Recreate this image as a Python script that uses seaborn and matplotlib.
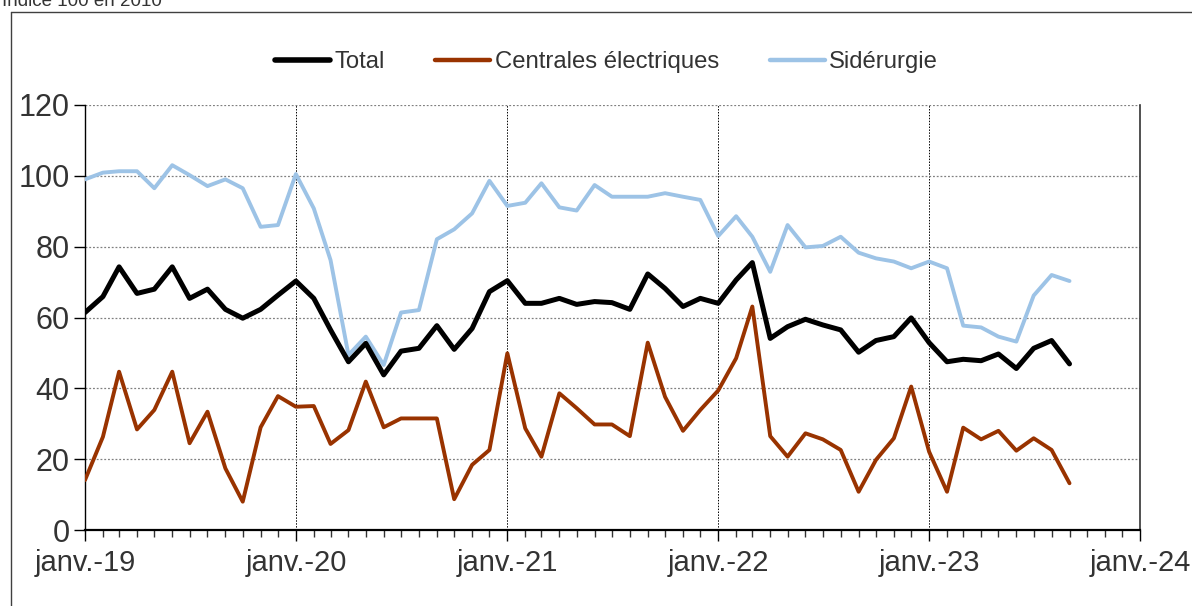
import matplotlib
matplotlib.use("Agg")
import matplotlib.pyplot as plt
import matplotlib.dates as mdates
from matplotlib.lines import Line2D
import numpy as np
import pandas as pd
import seaborn as sns

# Données mensuelles, janv. 2019 à sept. 2023 (indice 100 en 2010)
mois = pd.date_range("2019-01-01", "2023-09-01", freq="MS")

total = [61.4, 65.9, 74.3, 66.8, 68.0, 74.3, 65.4, 68.0, 62.3, 59.8, 62.3, 66.3,
         70.3, 65.4, 56.5, 47.5, 52.7, 43.8, 50.5, 51.3, 57.7, 51.0, 56.9, 67.3,
         70.4, 64.0, 64.0, 65.4, 63.7, 64.5, 64.2, 62.3, 72.3, 68.2, 63.1, 65.4,
         64.0, 70.6, 75.5, 54.1, 57.4, 59.5, 57.9, 56.5, 50.2, 53.5, 54.6, 59.9,
         52.9, 47.5, 48.2, 47.8, 49.7, 45.6, 51.3, 53.5, 46.9]

centrales = [14.1, 26.3, 44.7, 28.4, 33.9, 44.7, 24.5, 33.4, 17.4, 8.0, 29.0, 37.8,
             34.8, 35.0, 24.3, 28.2, 41.9, 29.0, 31.5, 31.5, 31.5, 8.7, 18.4, 22.6,
             49.9, 28.7, 20.7, 38.6, 34.4, 29.8, 29.8, 26.5, 52.9, 37.6, 28.0, 33.9,
             39.4, 48.5, 63.1, 26.5, 20.7, 27.3, 25.6, 22.6, 10.8, 19.8, 25.9, 40.5,
             22.1, 10.8, 28.9, 25.6, 28.0, 22.4, 25.9, 22.6, 13.2]

siderurgie = [99.0, 100.9, 101.3, 101.3, 96.5, 103.0, 100.2, 97.1, 99.0, 96.5, 85.6, 86.1,
              100.5, 90.8, 76.2, 49.4, 54.6, 46.6, 61.4, 62.1, 82.1, 84.9, 89.4, 98.6,
              91.5, 92.4, 97.9, 91.1, 90.2, 97.4, 94.1, 94.1, 94.1, 95.1, 94.1, 93.2,
              83.0, 88.6, 82.8, 72.9, 86.1, 79.8, 80.2, 82.8, 78.3, 76.7, 75.8, 73.9,
              75.8, 73.9, 57.7, 57.2, 54.6, 53.2, 66.2, 72.0, 70.3]

series = ["Total", "Centrales électriques", "Sidérurgie"]
couleurs = ["#000000", "#993300", "#9DC3E6"]
epaisseurs = [3.6, 2.8, 2.8]
annees = ["janv.-19", "janv.-20", "janv.-21", "janv.-22", "janv.-23", "janv.-24"]

df = pd.DataFrame({"mois": mois, "Total": total,
                   "Centrales électriques": centrales, "Sidérurgie": siderurgie})
long = df.melt(id_vars="mois", var_name="serie", value_name="indice")

sns.set_style("white")
plt.rcParams["font.family"] = ["Liberation Sans", "DejaVu Sans"]

fig = plt.figure(figsize=(11.92, 6.06), dpi=100)
ax = fig.add_axes([85 / 1192, 76 / 606, 1055 / 1192, 425 / 606])

# ordre de tracé : sidérurgie, centrales, puis total au-dessus
for nom in ["Sidérurgie", "Centrales électriques", "Total"]:
    i = series.index(nom)
    sns.lineplot(data=long[long["serie"] == nom], x="mois", y="indice",
                 color=couleurs[i], linewidth=epaisseurs[i], ax=ax,
                 legend=False, zorder=3 + (nom == "Total"))

ax.set_xlim(pd.Timestamp("2019-01-01"), pd.Timestamp("2024-01-01"))
ax.set_ylim(0, 120)
ax.set_yticks(np.arange(0, 121, 20))
ax.tick_params(axis="y", labelsize=22, labelcolor="#333333", length=8,
               width=1, color="black", direction="out", pad=3, left=True)

ticks_annees = pd.date_range("2019-01-01", "2024-01-01", freq="YS")
ax.set_xticks(ticks_annees)
ax.set_xticklabels(annees)
ax.xaxis.set_minor_locator(mdates.MonthLocator())
ax.tick_params(axis="x", which="major", labelsize=21, labelcolor="#333333",
               length=8, width=1, color="black", direction="out", pad=6, bottom=True)
ax.tick_params(axis="x", which="minor", length=5, width=1, color="#333333",
               direction="out", bottom=True)

ax.set_xlabel("")
ax.set_ylabel("")

# grilles : pointillés gris horizontaux, pointillés noirs pour les janviers
ax.yaxis.grid(True, linestyle=(0, (1.5, 1.5)), color="#808080", linewidth=0.9)
ax.xaxis.grid(True, which="major", linestyle=(0, (1.5, 1.5)), color="#000000",
              linewidth=0.7)
ax.set_axisbelow(True)

ax.spines["top"].set_visible(False)
ax.spines["left"].set_color("black")
ax.spines["left"].set_linewidth(1.0)
ax.spines["bottom"].set_color("black")
ax.spines["bottom"].set_linewidth(1.6)
ax.spines["right"].set_color("#333333")
ax.spines["right"].set_linewidth(1.2)

poignees = [Line2D([0], [0], color=couleurs[i], linewidth=epaisseurs[i] + 0.4)
            for i in range(len(series))]
fig.legend(poignees, series, loc="center", bbox_to_anchor=(0.509, 0.897),
           ncol=3, frameon=False, fontsize=17.2, handlelength=2.3,
           handletextpad=0.2, columnspacing=2.1, labelcolor="#333333")

# cadre extérieur et mention de l'indice
fig.add_artist(Line2D([10.5 / 1192, 10.5 / 1192], [0, 1 - 12 / 606],
                      color="#404040", linewidth=1.0, transform=fig.transFigure))
fig.add_artist(Line2D([10.5 / 1192, 1], [1 - 12 / 606, 1 - 12 / 606],
                      color="#404040", linewidth=1.0, transform=fig.transFigure))
fig.text(2 / 1192, 1 - 6 / 606, "Indice 100 en 2010", fontsize=13.5,
         color="#333333", va="baseline", ha="left")

fig.savefig("out.png", dpi=100)
